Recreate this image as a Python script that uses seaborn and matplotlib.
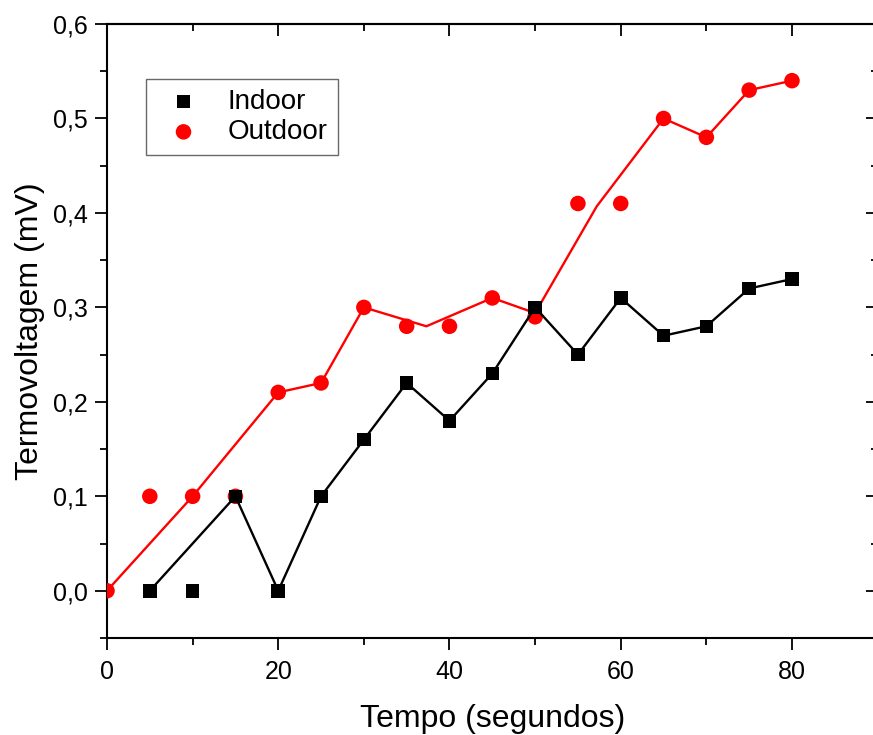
import matplotlib
matplotlib.use("Agg")
import matplotlib.pyplot as plt
import seaborn as sns
import pandas as pd
from matplotlib.ticker import FuncFormatter, MultipleLocator

# ---- data ----
indoor_x = [5, 10, 15, 20, 25, 30, 35, 40, 45, 50, 55, 60, 65, 70, 75, 80]
indoor_y = [0.0, 0.0, 0.10, 0.0, 0.10, 0.16, 0.22, 0.18, 0.23, 0.30, 0.25, 0.31, 0.27, 0.28, 0.32, 0.33]
indoor_line_x = [5, 15, 20, 25, 30, 35, 40, 45, 50, 55, 60, 65, 70, 75, 80]
indoor_line_y = [0.0, 0.10, 0.0, 0.10, 0.16, 0.22, 0.18, 0.23, 0.30, 0.25, 0.31, 0.27, 0.28, 0.32, 0.33]

outdoor_x = [0, 5, 10, 15, 20, 25, 30, 35, 40, 45, 50, 55, 60, 65, 70, 75, 80]
outdoor_y = [0.0, 0.10, 0.10, 0.10, 0.21, 0.22, 0.30, 0.28, 0.28, 0.31, 0.29, 0.41, 0.41, 0.50, 0.48, 0.53, 0.54]
outdoor_line_x = [0, 10, 20, 25, 30, 37.3, 45, 50, 57.2, 65, 70, 75, 80]
outdoor_line_y = [0.0, 0.10, 0.21, 0.22, 0.30, 0.280, 0.31, 0.294, 0.407, 0.50, 0.48, 0.53, 0.54]

series_names = ["Indoor", "Outdoor"]
x_label = "Tempo (segundos)"
y_label = "Termovoltagem (mV)"

sns.set_style("white")
plt.rcParams["font.family"] = ["Liberation Sans", "DejaVu Sans"]
plt.rcParams["text.color"] = "black"
plt.rcParams["axes.labelcolor"] = "black"
plt.rcParams["xtick.color"] = "black"
plt.rcParams["ytick.color"] = "black"

fig = plt.figure(figsize=(8.73, 7.35), dpi=100)
ax = fig.add_axes([107 / 873, 1 - 638 / 735, 770.6 / 873, 614 / 735])

df_in = pd.DataFrame({"x": indoor_x, "y": indoor_y})
df_out = pd.DataFrame({"x": outdoor_x, "y": outdoor_y})
df_in_line = pd.DataFrame({"x": indoor_line_x, "y": indoor_line_y})
df_out_line = pd.DataFrame({"x": outdoor_line_x, "y": outdoor_line_y})

sns.lineplot(data=df_out_line, x="x", y="y", ax=ax, color="#ff0000", lw=1.7,
             sort=False, estimator=None, zorder=2)
sns.scatterplot(data=df_out, x="x", y="y", ax=ax, color="#ff0000", marker="o",
                s=125, edgecolor="none", linewidth=0, zorder=3, label=series_names[1])
sns.lineplot(data=df_in_line, x="x", y="y", ax=ax, color="black", lw=1.7,
             sort=False, estimator=None, zorder=4)
sns.scatterplot(data=df_in, x="x", y="y", ax=ax, color="black", marker="s",
                s=95, edgecolor="none", linewidth=0, zorder=5, label=series_names[0])

ax.set_xlim(0, 90)
ax.set_ylim(-0.05, 0.6)

ax.xaxis.set_major_locator(MultipleLocator(20))
ax.xaxis.set_minor_locator(MultipleLocator(10))
ax.yaxis.set_major_locator(MultipleLocator(0.1))
ax.yaxis.set_minor_locator(MultipleLocator(0.05))
ax.yaxis.set_major_formatter(FuncFormatter(lambda v, p: f"{v:.1f}".replace(".", ",").replace("-0,0", "0,0")))
ax.xaxis.set_major_formatter(FuncFormatter(lambda v, p: f"{v:.0f}"))

ax.tick_params(axis="both", which="major", direction="out", length=8.6, width=1.3,
               labelsize=18, pad=5, color="black", labelcolor="black", bottom=True, left=True)
ax.tick_params(axis="x", which="major", pad=7)
ax.tick_params(axis="both", which="minor", direction="out", length=5, width=1.3,
               color="black", bottom=True, left=True)

for s in ax.spines.values():
    s.set_linewidth(1.5)
    s.set_color("black")

# top / right ticks pointing inward
sx = ax.secondary_xaxis("top")
sx.xaxis.set_major_locator(MultipleLocator(20))
sx.xaxis.set_minor_locator(MultipleLocator(10))
sx.tick_params(which="major", direction="in", length=8.6, width=1.3, labeltop=False)
sx.tick_params(which="minor", direction="in", length=5, width=1.3)
sx.spines["top"].set_linewidth(1.5)
sy = ax.secondary_yaxis("right")
sy.yaxis.set_major_locator(MultipleLocator(0.1))
sy.yaxis.set_minor_locator(MultipleLocator(0.05))
sy.tick_params(which="major", direction="in", length=8.6, width=1.3, labelright=False)
sy.tick_params(which="minor", direction="in", length=5, width=1.3)

ax.set_xlabel(x_label, fontsize=23, labelpad=15, color="black")
ax.set_ylabel(y_label, fontsize=23, labelpad=6, color="black")

handles, labels = ax.get_legend_handles_labels()
order = [labels.index(series_names[0]), labels.index(series_names[1])]
leg = ax.legend([handles[i] for i in order], [labels[i] for i in order],
                loc="upper left", bbox_to_anchor=(0.0506, 0.91), borderaxespad=0,
                fontsize=20, frameon=True, fancybox=False, handletextpad=0.6,
                labelspacing=0.15, borderpad=0.35, handlelength=2.0)
leg.get_frame().set_edgecolor("#444444")
leg.get_frame().set_linewidth(1.0)
for t in leg.get_texts():
    t.set_color("black")

fig.savefig("out.png", dpi=100)
